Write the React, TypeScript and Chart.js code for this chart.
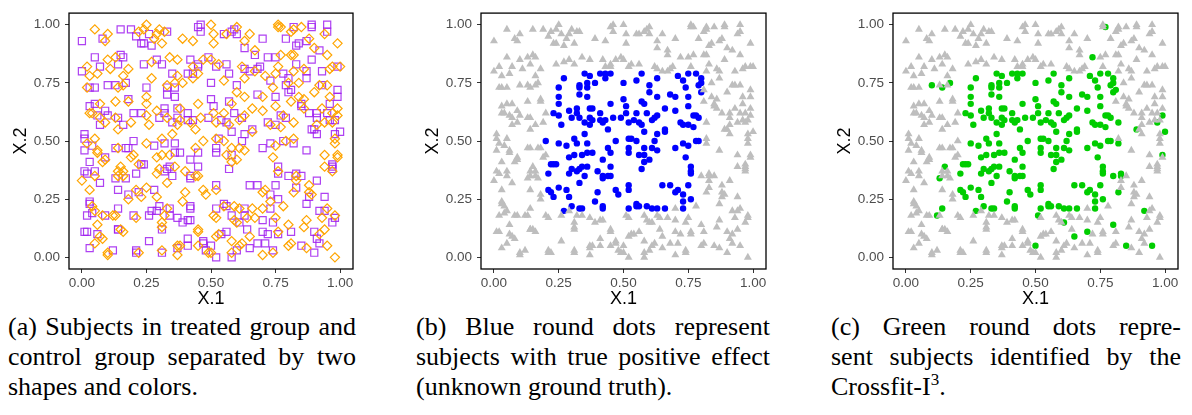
import React, { useEffect, useRef } from "react";
import { Chart, registerables } from "chart.js";
Chart.register(...registerables);

// ---------- axis ----------
const tickValues = [0, 0.25, 0.5, 0.75, 1];
const tickLabels = ["0.00", "0.25", "0.50", "0.75", "1.00"];
const axisMin = -0.05;
const axisMax = 1.05;
const xTitle = "X.1";
const yTitle = "X.2";

type Pt = [number, number];

// true positive effect AND identified by Crossfit-I3 (blue in b, green in c)
const truePositive: Pt[] = [
  [0.27,0.77],[0.35,0.79],[0.37,0.78],[0.41,0.79],[0.43,0.79],[0.45,0.79],[0.43,0.77],[0.57,0.79],[0.50,0.75],[0.36,0.75],
  [0.39,0.75],[0.33,0.73],[0.33,0.74],[0.25,0.73],[0.36,0.73],[0.55,0.76],[0.60,0.74],[0.63,0.77],[0.71,0.78],[0.73,0.76],
  [0.75,0.79],[0.78,0.79],[0.80,0.77],[0.80,0.75],[0.79,0.74],[0.74,0.73],
  [0.25,0.69],[0.33,0.70],[0.36,0.69],[0.60,0.71],[0.63,0.69],[0.68,0.70],[0.70,0.69],[0.75,0.69],[0.80,0.71],
  [0.25,0.66],[0.45,0.66],[0.51,0.65],[0.75,0.65],[0.50,0.68],[0.29,0.63],[0.32,0.64],[0.37,0.64],[0.38,0.64],[0.41,0.62],
  [0.51,0.62],[0.55,0.62],[0.59,0.62],[0.62,0.60],[0.66,0.64],[0.70,0.63],[0.77,0.61],[0.78,0.61],[0.79,0.60],[0.57,0.67],[0.58,0.66],
  [0.23,0.62],[0.25,0.61],[0.26,0.57],[0.30,0.60],[0.33,0.60],[0.32,0.62],[0.37,0.60],[0.38,0.59],[0.37,0.57],[0.35,0.58],
  [0.41,0.59],[0.42,0.58],[0.43,0.59],[0.44,0.55],[0.46,0.60],[0.49,0.60],[0.52,0.58],[0.54,0.59],[0.56,0.58],[0.57,0.57],
  [0.58,0.54],[0.61,0.59],[0.63,0.61],[0.66,0.55],[0.66,0.54],[0.63,0.53],[0.72,0.58],[0.73,0.57],[0.75,0.57],[0.77,0.56],
  [0.25,0.49],[0.28,0.48],[0.31,0.51],[0.32,0.49],[0.36,0.49],[0.35,0.53],[0.34,0.44],[0.36,0.45],[0.38,0.45],[0.44,0.47],
  [0.45,0.45],[0.47,0.50],[0.52,0.51],[0.53,0.51],[0.55,0.50],[0.52,0.45],[0.52,0.47],[0.56,0.44],[0.58,0.44],[0.58,0.47],
  [0.61,0.47],[0.62,0.50],[0.63,0.46],[0.70,0.47],[0.73,0.49],[0.75,0.48],[0.78,0.50],[0.79,0.50],
  [0.22,0.40],[0.23,0.40],[0.24,0.40],[0.29,0.43],[0.31,0.44],[0.21,0.36],[0.29,0.36],[0.32,0.37],[0.33,0.38],[0.36,0.39],
  [0.35,0.35],[0.33,0.32],[0.30,0.38],[0.34,0.39],[0.40,0.37],[0.42,0.35],[0.42,0.34],[0.44,0.35],[0.45,0.35],[0.45,0.39],
  [0.42,0.42],[0.58,0.41],[0.57,0.38],[0.60,0.42],[0.74,0.43],[0.76,0.39],[0.76,0.37],[0.76,0.36],[0.75,0.31],
  [0.21,0.29],[0.22,0.28],[0.23,0.26],[0.25,0.30],[0.28,0.29],[0.29,0.26],[0.27,0.20],[0.30,0.22],[0.33,0.21],[0.34,0.21],
  [0.40,0.28],[0.39,0.24],[0.42,0.22],[0.42,0.21],[0.48,0.27],[0.47,0.29],[0.52,0.31],[0.52,0.29],[0.52,0.21],[0.55,0.23],
  [0.55,0.22],[0.56,0.22],[0.59,0.22],[0.61,0.21],[0.63,0.21],[0.66,0.21],[0.65,0.31],[0.68,0.31],[0.70,0.28],[0.71,0.29],
  [0.73,0.27],[0.73,0.24],[0.76,0.25],[0.73,0.21],
];

// true positive effect but NOT identified (blue in b, grey in c)
const missedPositive: Pt[] = [[0.20,0.50]];

// no true effect but identified (grey in b, green in c)
const falsePositive: Pt[] = [
  [0.10,0.74],[0.14,0.73],[0.17,0.75],[0.13,0.34],[0.15,0.39],[0.12,0.18],[0.14,0.21],[0.77,0.99],[0.72,0.86],[0.81,0.72],
  [0.82,0.58],[0.89,0.55],[0.97,0.58],[0.99,0.61],[1.00,0.54],[0.99,0.44],[0.82,0.49],[0.80,0.35],[0.83,0.35],[0.83,0.36],
  [0.82,0.28],[0.80,0.14],[0.92,0.20],[0.85,0.05],[0.95,0.05],[0.70,0.11],[0.65,0.09],[0.61,0.15],[0.50,0.05],[0.51,0.18],
];

// no true effect, not identified (grey in b and c)
const trueNegative: Pt[] = [
  [0.00,0.93],[0.05,0.98],[0.09,0.93],[0.08,0.94],[0.10,0.96],[0.15,0.98],[0.19,0.98],[0.22,0.97],[0.21,0.95],[0.24,0.98],
  [0.29,0.96],[0.33,0.97],[0.28,0.94],[0.23,0.92],[0.24,0.92],[0.39,0.94],[0.43,0.93],[0.45,0.99],[0.46,1.00],[0.50,1.00],
  [0.46,0.97],[0.51,0.96],[0.51,0.92],[0.55,0.96],[0.56,0.96],[0.58,0.97],[0.59,0.98],[0.60,0.99],[0.60,0.96],[0.65,0.96],
  [0.63,0.93],[0.63,0.90],[0.67,0.89],[0.67,0.87],[0.70,0.94],[0.76,1.00],[0.79,0.94],[0.81,0.97],[0.82,0.98],[0.83,0.91],
  [0.84,0.92],[0.85,0.99],[0.88,0.94],[0.89,1.00],[0.90,0.90],[0.95,1.00],[0.95,0.97],[0.99,0.92],[0.92,0.89],[0.95,0.87],
  [0.02,0.82],[0.00,0.80],[0.06,0.79],[0.05,0.86],[0.07,0.82],[0.10,0.85],[0.13,0.86],[0.15,0.87],[0.16,0.86],[0.11,0.81],
  [0.14,0.83],[0.18,0.81],[0.16,0.78],[0.24,0.83],[0.27,0.84],[0.29,0.85],[0.31,0.83],[0.34,0.86],[0.27,0.91],[0.31,0.92],
  [0.37,0.85],[0.42,0.85],[0.45,0.83],[0.47,0.85],[0.45,0.82],[0.50,0.85],[0.53,0.83],[0.56,0.83],[0.62,0.82],[0.63,0.81],
  [0.65,0.80],[0.67,0.80],[0.69,0.82],[0.77,0.87],[0.82,0.87],[0.83,0.83],[0.82,0.80],[0.87,0.80],[0.89,0.85],[0.96,0.81],
  [0.97,0.82],[0.99,0.82],[0.93,0.80],[0.25,1.00],[0.26,0.96],[0.30,0.98],[0.32,0.97],[0.49,0.86],[0.43,0.82],[0.52,0.82],
  [0.68,0.81],[0.76,0.82],[0.75,0.86],[0.81,0.87],[0.76,0.99],[0.82,0.99],[0.89,0.99],[0.94,0.96],[0.87,0.93],[1.00,0.82],
  [0.86,0.81],[0.87,0.77],
  [0.02,0.73],[0.03,0.73],[0.05,0.73],[0.03,0.78],[0.13,0.74],[0.16,0.74],[0.18,0.67],[0.18,0.68],[0.13,0.67],
  [0.03,0.65],[0.05,0.66],[0.03,0.62],[0.04,0.62],[0.10,0.61],[0.06,0.61],[0.09,0.58],[0.13,0.60],[0.14,0.60],[0.19,0.58],
  [0.20,0.62],[0.16,0.57],[0.07,0.66],[0.09,0.63],[0.07,0.60],[0.14,0.55],[0.01,0.53],[0.05,0.51],[0.07,0.57],
  [0.01,0.51],[0.02,0.49],[0.04,0.48],[0.06,0.46],[0.09,0.42],[0.09,0.43],[0.08,0.41],[0.13,0.47],[0.18,0.47],[0.20,0.44],
  [0.14,0.37],[0.01,0.46],[0.06,0.45],[0.03,0.41],[0.01,0.37],[0.14,0.47],[0.17,0.47],[0.19,0.43],[0.14,0.35],[0.17,0.34],
  [0.00,0.33],[0.02,0.36],[0.05,0.37],[0.05,0.35],[0.07,0.32],[0.16,0.37],[0.16,0.35],[0.14,0.29],[0.18,0.27],[0.18,0.25],
  [0.03,0.29],[0.03,0.24],[0.04,0.22],[0.04,0.19],[0.02,0.18],[0.05,0.20],[0.09,0.18],[0.13,0.18],[0.08,0.18],[0.20,0.18],
  [0.21,0.17],[0.26,0.18],[0.29,0.20],[0.32,0.18],[0.03,0.23],
  [0.84,0.75],[0.84,0.69],[0.85,0.65],[0.86,0.64],[0.88,0.62],[0.91,0.62],[0.92,0.74],[0.93,0.74],[0.95,0.74],[0.96,0.69],
  [0.99,0.69],[0.96,0.66],[0.99,0.64],[0.97,0.62],[0.96,0.59],[0.94,0.58],[0.91,0.60],[0.91,0.53],[0.91,0.57],[0.98,0.53],
  [0.98,0.51],[0.98,0.49],[0.87,0.46],[0.94,0.44],[0.97,0.40],[0.97,0.39],[0.97,0.37],[0.85,0.35],[0.83,0.33],[0.88,0.31],
  [0.83,0.30],[0.89,0.27],[0.88,0.26],[0.91,0.33],[0.95,0.21],[0.98,0.18],[0.87,0.23],[0.94,0.26],[0.90,0.71],[0.99,0.72],
  [0.86,0.68],[0.81,0.67],[0.85,0.66],[0.93,0.64],[0.95,0.62],[0.98,0.59],[0.82,0.51],[0.90,0.55],[0.88,0.28],[0.94,0.39],
  [0.97,0.38],[0.99,0.43],
  [0.02,0.11],[0.03,0.04],[0.05,0.06],[0.06,0.10],[0.08,0.08],[0.10,0.01],[0.12,0.03],[0.14,0.12],[0.16,0.11],[0.15,0.12],
  [0.21,0.03],[0.22,0.02],[0.26,0.07],[0.31,0.02],[0.31,0.03],[0.31,0.12],[0.31,0.15],[0.37,0.01],[0.37,0.04],[0.38,0.05],
  [0.41,0.16],[0.41,0.08],[0.45,0.11],[0.45,0.05],[0.47,0.07],[0.48,0.03],[0.50,0.02],[0.52,0.00],[0.52,0.17],[0.53,0.10],
  [0.56,0.11],[0.58,0.07],[0.58,0.00],[0.60,0.03],[0.62,0.06],[0.64,0.12],[0.64,0.17],[0.67,0.17],[0.68,0.06],[0.70,0.01],
  [0.72,0.10],[0.74,0.03],[0.76,0.11],[0.81,0.11],[0.81,0.06],[0.87,0.04],[0.90,0.02],[0.91,0.08],[0.92,0.10],[0.94,0.12],
  [0.97,0.15],[0.98,0.00],[0.37,0.17],[0.34,0.18],[0.59,0.16],[0.74,0.15],[0.78,0.22],[0.70,0.21],[0.58,0.18],[0.60,0.15],
  [0.63,0.18],[0.70,0.16],[0.75,0.17],[0.76,0.10],[0.86,0.13],[0.87,0.16],[0.90,0.11],[0.93,0.17],[0.94,0.20],[0.98,0.17],
  [0.52,0.09],[0.54,0.10],[0.58,0.02],[0.61,0.05],[0.65,0.04],[0.71,0.06],[0.74,0.02],[0.80,0.05],[0.92,0.06],[0.49,0.02],
  [0.39,0.15],[0.42,0.16],[0.45,0.12],[0.01,0.11],[0.06,0.14],[0.07,0.09],[0.14,0.12],[0.37,0.05],[0.41,0.05],[0.47,0.06],
  [0.10,0.02],[0.21,0.02],[0.31,0.13],
];

// treatment assignment, one flag per point of each group (1 = treated: purple square, 0 = control: orange diamond)
const treatTruePositive = "0101100110010110100101101001100101100101011010011001011010010110011010010110100101101001011001101001011010010110100110010110100101100110100101101001011010011001011010010110010110100101101";
const treatMissed = "1";
const treatFalsePositive = "101100101101001011010011010110";
const treatTrueNegative = "1001011010010110011010010110100101101001100101101001011001101001011010011010010110100101100110100101101001101001011010010110011001011010010110100101100101101001011010011001011010010110100101101001100101101001011010010110011010010110100101101001100101101001011001101001011010010110100110010110100101101001011010011001011010010110100101";

const COLORS = {
  purple: "rgba(160,32,240,0.85)",
  orange: "#FFA500",
  blue: "#0000FF",
  green: "#00CD00",
  grey: "#BEBEBE",
};

const toXY = (pts: Pt[]) => pts.map(([x, y]) => ({ x, y }));

function splitByTreat(groups: [Pt[], string][]) {
  const treated: Pt[] = [];
  const control: Pt[] = [];
  groups.forEach(([pts, flags]) => {
    pts.forEach((p, i) => (flags.charAt(i) === "1" ? treated : control).push(p));
  });
  return { treated, control };
}

const framePlugin = {
  id: "frame",
  afterDatasetsDraw(chart: any) {
    const { ctx, chartArea } = chart;
    const { left, top, right, bottom } = chartArea;
    ctx.save();
    ctx.strokeStyle = "#000";
    ctx.lineWidth = 1.3;
    ctx.strokeRect(left, top, right - left, bottom - top);
    ctx.restore();
  },
};

const CANVAS_H = 312;
const AREA_BOTTOM = 269;
const AREA_TOP = 4;
const Y_AXIS_W = 69;

function makeScale(axis: "x" | "y") {
  return {
    type: "linear",
    min: axisMin,
    max: axisMax,
    afterBuildTicks: (s: any) => {
      s.ticks = tickValues.map((v) => ({ value: v }));
    },
    afterFit: (s: any) => {
      if (axis === "x") s.height = CANVAS_H - AREA_BOTTOM;
      else s.width = Y_AXIS_W;
    },
    ticks: {
      autoSkip: false,
      maxRotation: 0,
      color: "#4D4D4D",
      padding: axis === "x" ? 2 : 5,
      font: { family: "'Liberation Sans', Arial, sans-serif", size: 13.5 },
      callback: (_v: any, i: number) => tickLabels[i],
    },
    grid: {
      display: true,
      drawOnChartArea: false,
      drawTicks: true,
      tickLength: 4,
      color: "#333333",
      lineWidth: 1,
    },
    border: { display: false },
    title: {
      display: true,
      text: axis === "x" ? xTitle : yTitle,
      color: "#000",
      font: { family: "'Liberation Sans', Arial, sans-serif", size: 18 },
      padding: axis === "x" ? { top: 0, bottom: 2 } : { top: 10, bottom: 0 },
    },
  };
}

function Panel({ left, width, datasets }: { left: number; width: number; datasets: any[] }) {
  const ref = useRef<HTMLCanvasElement | null>(null);
  useEffect(() => {
    if (!ref.current) return;
    const chart = new Chart(ref.current, {
      type: "scatter",
      data: { datasets },
      options: {
        animation: false,
        responsive: false,
        events: [],
        layout: { padding: { top: AREA_TOP, right: 9, left: 0, bottom: 0 } },
        plugins: { legend: { display: false }, tooltip: { enabled: false } },
        scales: { x: makeScale("x") as any, y: makeScale("y") as any },
      },
      plugins: [framePlugin],
    } as any);
    return () => chart.destroy();
  }, []);
  return (
    <div style={{ position: "absolute", left, top: 0, width, height: CANVAS_H }}>
      <canvas ref={ref} width={width} height={CANVAS_H} style={{ width, height: CANVAS_H, display: "block" }} />
    </div>
  );
}

const captionFont: React.CSSProperties = {
  fontFamily: "'Liberation Serif', 'Times New Roman', serif",
  fontSize: 26,
  lineHeight: "30px",
  color: "#000",
};

function Caption({ left, width, lines }: { left: number; width: number; lines: React.ReactNode[] }) {
  return (
    <div style={{ position: "absolute", left, top: 312, width, ...captionFont }}>
      {lines.map((ln, i) => (
        <div
          key={i}
          style={{
            height: 30,
            textAlign: i < lines.length - 1 ? "justify" : "left",
            textAlignLast: i < lines.length - 1 ? "justify" : "left",
            whiteSpace: "nowrap",
          } as React.CSSProperties}
        >
          {ln}
        </div>
      ))}
    </div>
  );
}

export default function App() {
  const { treated, control } = splitByTreat([
    [truePositive, treatTruePositive],
    [missedPositive, treatMissed],
    [falsePositive, treatFalsePositive],
    [trueNegative, treatTrueNegative],
  ]);

  const dsA = [
    {
      data: toXY(control),
      pointStyle: "rectRot",
      pointRadius: 4.6,
      borderColor: COLORS.orange,
      backgroundColor: "rgba(0,0,0,0)",
      borderWidth: 1.2,
    },
    {
      data: toXY(treated),
      pointStyle: "rect",
      pointRadius: 5,
      borderColor: COLORS.purple,
      backgroundColor: "rgba(0,0,0,0)",
      borderWidth: 1.2,
    },
  ];
  const dsB = [
    {
      data: toXY([...falsePositive, ...trueNegative]),
      pointStyle: "triangle",
      pointRadius: 4.6,
      backgroundColor: COLORS.grey,
      borderColor: COLORS.grey,
      borderWidth: 0,
    },
    {
      data: toXY([...truePositive, ...missedPositive]),
      pointStyle: "circle",
      pointRadius: 3.2,
      backgroundColor: COLORS.blue,
      borderColor: COLORS.blue,
      borderWidth: 0,
    },
  ];
  const dsC = [
    {
      data: toXY([...missedPositive, ...trueNegative]),
      pointStyle: "triangle",
      pointRadius: 4.6,
      backgroundColor: COLORS.grey,
      borderColor: COLORS.grey,
      borderWidth: 0,
    },
    {
      data: toXY([...truePositive, ...falsePositive]),
      pointStyle: "circle",
      pointRadius: 3.2,
      backgroundColor: COLORS.green,
      borderColor: COLORS.green,
      borderWidth: 0,
    },
  ];

  return (
    <div style={{ position: "absolute", left: 0, top: 0, width: 1192, height: 415, background: "#fff" }}>
      <Panel left={0} width={362} datasets={dsA} />
      <Panel left={412} width={363} datasets={dsB} />
      <Panel left={824} width={363} datasets={dsC} />
      <Caption
        left={8}
        width={348}
        lines={["(a) Subjects in treated group and", "control group separated by two", "shapes and colors."]}
      />
      <Caption
        left={416}
        width={354}
        lines={["(b) Blue round dots represent", "subjects with true positive effect", "(unknown ground truth)."]}
      />
      <Caption
        left={831}
        width={350}
        lines={[
          "(c) Green round dots repre-",
          "sent subjects identified by the",
          <span key="c3">
            Crossfit-I<span style={{ fontSize: 17, position: "relative", top: -10 }}>3</span>.
          </span>,
        ]}
      />
    </div>
  );
}
